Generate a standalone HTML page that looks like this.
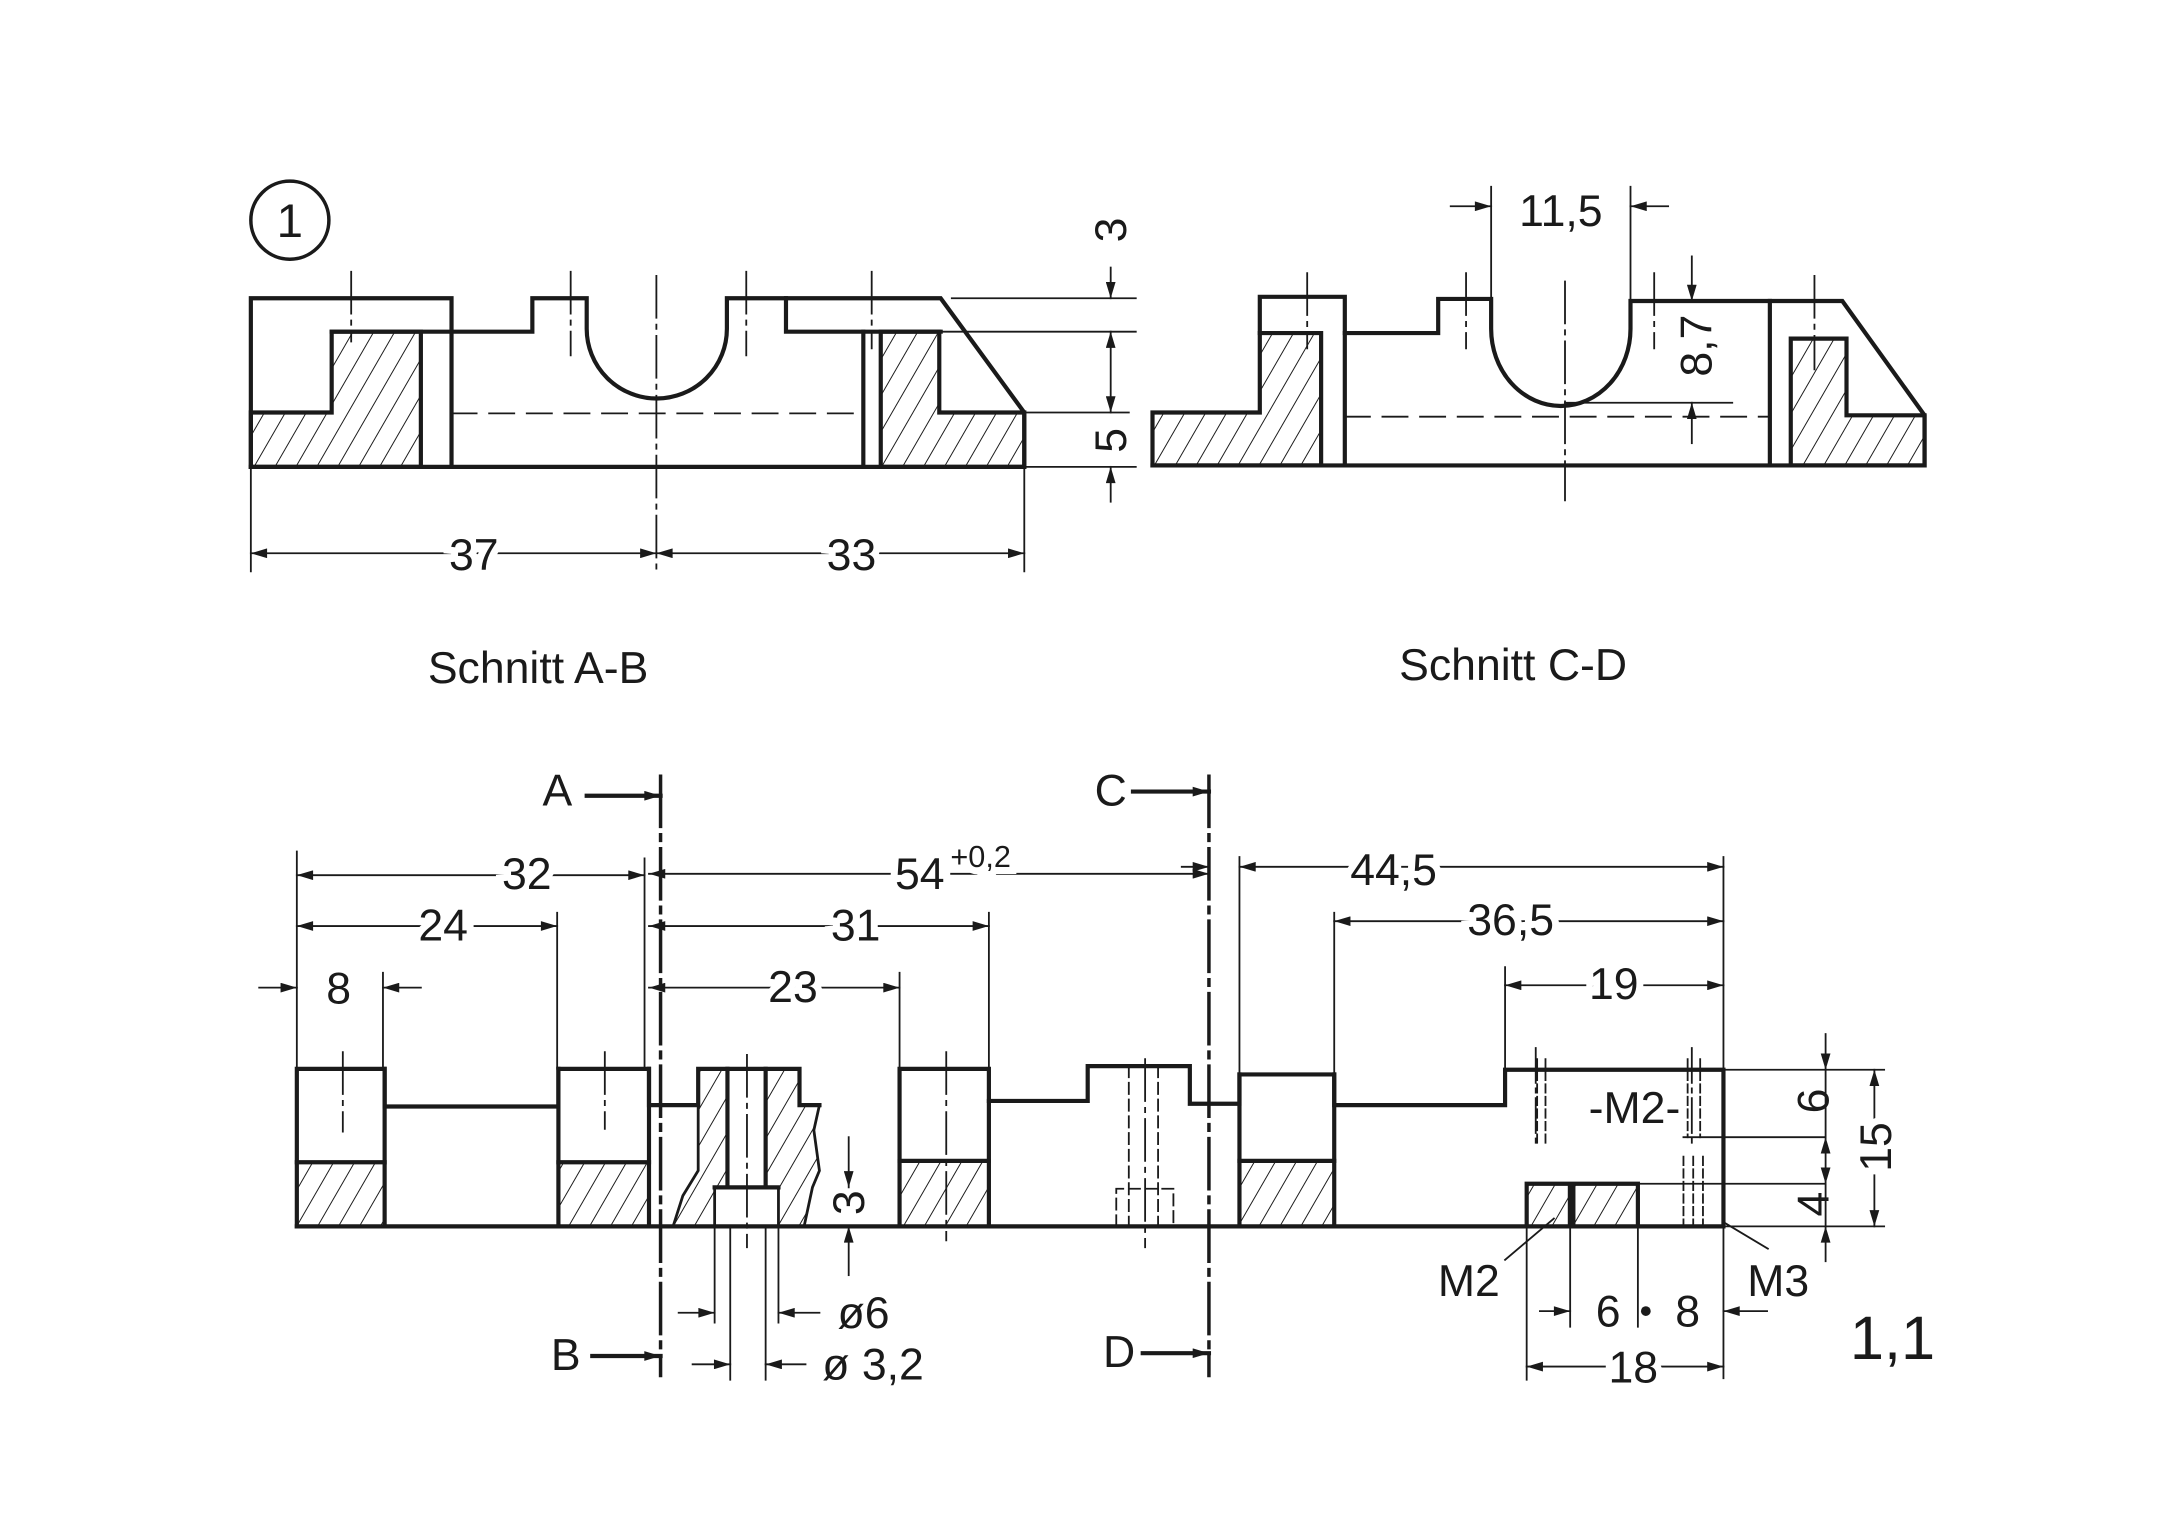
<!DOCTYPE html>
<html><head><meta charset="utf-8"><style>
html,body{margin:0;padding:0;background:#fff}
svg{display:block}
text{font-family:"Liberation Sans",sans-serif;fill:#1a1a1a}
.t{font-size:32px}
.bg{paint-order:stroke;stroke:#fff;stroke-width:10px}
</style></head><body>
<svg width="2174" height="1526" viewBox="0 0 1560 1095" preserveAspectRatio="none" xmlns="http://www.w3.org/2000/svg">
<defs>
<pattern id="h" patternUnits="userSpaceOnUse" width="13" height="13" patternTransform="rotate(30)">
<line x1="0" y1="0" x2="0" y2="13" stroke="#1a1a1a" stroke-width="1.4"/>
</pattern>
<marker id="a" viewBox="0 0 10 6" refX="10" refY="3" markerWidth="16" markerHeight="7" markerUnits="userSpaceOnUse" orient="auto-start-reverse">
<path d="M0,0 L10,3 L0,6 z" fill="#1a1a1a"/>
</marker>
</defs>
<rect width="1560" height="1095" fill="#fff"/>

<g fill="none" stroke="#1a1a1a" stroke-linecap="square">
<!-- ===== Schnitt A-B ===== -->
<circle cx="208" cy="158" r="28" stroke-width="2.5"/>
<polygon points="180,296 238,296 238,238 302,238 302,335 180,335" fill="url(#h)" stroke-width="3"/>
<polygon points="632,238 674,238 674,296 735,296 735,335 632,335" fill="url(#h)" stroke-width="3"/>
<g stroke-width="3">
<path d="M180,335 V214 H324 V335"/>
<path d="M180,335 H735 L735,296 L675,214 H521.6 V236 A50.3 50 0 0 1 421,236 V214 H382 V238 H238"/>
<path d="M564,214 V238 H675"/>
<path d="M619.5,238 V335"/>
</g>
<g stroke-width="1.3">
<path d="M324,296.6 H619.5" stroke-dasharray="18,9"/>
<path d="M683,214 H815 M675,238 H815 M735,296 H810 M735,335 H815"/>
<path d="M471,198 V410 M252,195 V245 M409.5,195 V255 M535.5,195 V255 M625.5,195 V250" stroke-dasharray="30,5,3,5"/>
<path d="M180,335 V410 M735,335 V410"/>
<path d="M797,192 V214" marker-end="url(#a)"/>
<path d="M797,238 V296" marker-start="url(#a)" marker-end="url(#a)"/>
<path d="M797,360 V335" marker-end="url(#a)"/>
<path d="M180,397 H471" marker-start="url(#a)" marker-end="url(#a)"/>
<path d="M471,397 H735" marker-start="url(#a)" marker-end="url(#a)"/>
</g>

<!-- ===== Schnitt C-D ===== -->
<polygon points="827,296 904,296 904,239 948,239 948,334 827,334" fill="url(#h)" stroke-width="3"/>
<polygon points="1285,243 1325,243 1325,298 1381,298 1381,334 1285,334" fill="url(#h)" stroke-width="3"/>
<g stroke-width="3">
<path d="M827,334 H1381 V298 L1322,216 H1170 V236 A47 52 0 0 1 1070,236 V214.5 H1032 V239 H965 V213 H904 V239"/>
<path d="M965,239 V334 M1270,216 V334"/>
</g>
<g stroke-width="1.3">
<path d="M965,299 H1270" stroke-dasharray="18,9"/>
<path d="M1123,289 H1243"/>
<path d="M1123,202 V359 M938,196 V250 M1052,196 V250 M1187,196 V250 M1302,198 V265" stroke-dasharray="30,5,3,5"/>
<path d="M1070,214 V134 M1170,216 V134"/>
<path d="M1041,148 H1070" marker-end="url(#a)"/>
<path d="M1197,148 H1170" marker-end="url(#a)"/>
<path d="M1214,184 V216" marker-end="url(#a)"/>
<path d="M1214,318 V289" marker-end="url(#a)"/>
</g>

<!-- ===== Bottom view ===== -->
<rect x="213" y="834" width="63" height="46" fill="url(#h)" stroke="none"/>
<rect x="400.7" y="834" width="65" height="46" fill="url(#h)" stroke="none"/>
<rect x="645.5" y="833" width="64.1" height="47" fill="url(#h)" stroke="none"/>
<rect x="889.4" y="833" width="68" height="47" fill="url(#h)" stroke="none"/>
<rect x="1095.5" y="849.4" width="79.8" height="30.6" fill="url(#h)" stroke="none"/>
<polygon points="501,767 522,767 522,852 512.8,852 512.8,880 483,880 490,858 501,840" fill="url(#h)" stroke-width="2"/>
<polygon points="549.4,767 573.7,767 573.7,793 588,793 584,811 588,840 583,852 577,880 558.6,880 558.6,852 549.4,852" fill="url(#h)" stroke-width="2"/>
<rect x="1125" y="849.4" width="5.5" height="30.6" fill="#1a1a1a" stroke="none"/>
<g stroke-width="3">
<path d="M213,880 V767 H276 V794 H400.7 V767 H465.7 V793 H501 V767 H573.7 V793 H588"/>
<path d="M645.5,880 V767 H709.6 V790 H780.5 V765 H853.8 V792 H889.4 V771 H957.4 V793 H1080 V767.6 H1236.7 V880 H213"/>
<path d="M276,767 V880 M400.7,767 V880 M465.7,767 V880 M709.6,790 V880 M889.4,771 V880 M957.4,771 V880"/>
<path d="M213,834 H276 M400.7,834 H465.7 M645.5,833 H709.6 M889.4,833 H957.4"/>
<path d="M522,767 V852 M549.4,767 V852 M512.8,852 H558.6"/>
<path d="M1095.5,880 V849.4 H1175.3 V880"/>
</g>
<g stroke-width="1.3">
<path d="M474,557 V987 M867.5,557 V987" stroke-width="2.5" stroke-dasharray="36,6,4,6"/>
<path d="M246,755 V812 M434,755 V810 M536,757 V895 M679,755 V890 M821.7,760 V895" stroke-dasharray="30,5,3,5"/>
<path d="M810,765 V880 M831,765 V880 M801,880 V853 H842 V880" stroke-dasharray="8,4"/>
<path d="M1103,760 V820 M1109,760 V820 M1211,760 V816 M1220,760 V816 M1208,830 V880 M1215,830 V880 M1222,830 V880" stroke-dasharray="6,3"/>
<path d="M1102,752 V822 M1214,752 V820" stroke-dasharray="25,4,3,4"/>
<path d="M1236.7,767.6 H1352 M1236.7,880 H1352 M1208,816 H1309 M1175.3,849.4 H1309"/>
<!-- extension lines -->
<path d="M213,611 V767 M462.5,616 V767 M399.8,655 V767 M274.8,698 V767 M709.6,655 V767 M645.5,698 V767"/>
<path d="M889.4,615 V771 M1236.7,615 V989 M957.4,655 V771 M1080,694 V767"/>
<path d="M512.8,852 V949 M558.6,852 V949 M524,880 V990 M549.4,880 V990"/>
<path d="M1095.5,880 V990 M1126.7,880 V952 M1175.3,880 V952"/>
<!-- dims -->
<path d="M213,628 H462.5" marker-start="url(#a)" marker-end="url(#a)"/>
<path d="M465.7,627 H867.5" marker-start="url(#a)" marker-end="url(#a)"/>
<path d="M889.4,622 H1236.7" marker-start="url(#a)" marker-end="url(#a)"/>
<path d="M848,622 H867.5" marker-end="url(#a)"/>
<path d="M213,664.5 H399.8" marker-start="url(#a)" marker-end="url(#a)"/>
<path d="M465.7,664.5 H709.6" marker-start="url(#a)" marker-end="url(#a)"/>
<path d="M957.4,661 H1236.7" marker-start="url(#a)" marker-end="url(#a)"/>
<path d="M186,708.7 H213" marker-end="url(#a)"/>
<path d="M302,708.7 H274.8" marker-end="url(#a)"/>
<path d="M465.7,708.7 H645.5" marker-start="url(#a)" marker-end="url(#a)"/>
<path d="M1080,707 H1236.7" marker-start="url(#a)" marker-end="url(#a)"/>
<path d="M609,816 V852" marker-end="url(#a)"/>
<path d="M609,915 V880" marker-end="url(#a)"/>
<path d="M487,942 H512.8" marker-end="url(#a)"/>
<path d="M588,942 H558.6" marker-end="url(#a)"/>
<path d="M497,979 H524" marker-end="url(#a)"/>
<path d="M578,979 H549.4" marker-end="url(#a)"/>
<path d="M421,571 H474" stroke-width="3" marker-end="url(#a)"/>
<path d="M813,568 H867.5" stroke-width="3" marker-end="url(#a)"/>
<path d="M425,973 H474" stroke-width="3" marker-end="url(#a)"/>
<path d="M820,971 H867.5" stroke-width="3" marker-end="url(#a)"/>
<path d="M1310,742 V767.6" marker-end="url(#a)"/>
<path d="M1310,767.6 V816 M1310,849.4 V880"/>
<path d="M1310,816 V849.4" marker-start="url(#a)" marker-end="url(#a)"/>
<path d="M1310,905 V880" marker-end="url(#a)"/>
<path d="M1345,767.6 V880" marker-start="url(#a)" marker-end="url(#a)"/>
<path d="M1105,940.8 H1126.7" marker-end="url(#a)"/>
<path d="M1268,940.8 H1236.7" marker-end="url(#a)"/>
<path d="M1095.5,980.6 H1236.7" marker-start="url(#a)" marker-end="url(#a)"/>
<path d="M1080,904 L1115,874.4 M1268.6,896 L1237.5,877.4"/>
</g>
</g>
<circle cx="1181" cy="940.8" r="3.5" fill="#1a1a1a"/>

<!-- ===== Text ===== -->
<g class="t">
<text x="208" y="170" font-size="34" text-anchor="middle">1</text>
<text x="808" y="165" text-anchor="middle" transform="rotate(-90 808 165)" dy="0">3</text>
<text x="808" y="316" text-anchor="middle" transform="rotate(-90 808 316)">5</text>
<text x="340" y="409" text-anchor="middle" class="bg">37</text>
<text x="611" y="409" text-anchor="middle" class="bg">33</text>
<text x="307" y="490">Schnitt A-B</text>
<text x="1004" y="488">Schnitt C-D</text>
<text x="1120" y="162" text-anchor="middle">11,5</text>
<text x="1228" y="248" text-anchor="middle" transform="rotate(-90 1228 248)">8,7</text>

<text x="400" y="578" text-anchor="middle">A</text>
<text x="797" y="578" text-anchor="middle">C</text>
<text x="406" y="983" text-anchor="middle">B</text>
<text x="803" y="981" text-anchor="middle">D</text>
<text x="378" y="638" text-anchor="middle" class="bg">32</text>
<text x="660" y="638" text-anchor="middle" class="bg">54</text>
<text x="682" y="622" font-size="22" class="bg">+0,2</text>
<text x="1000" y="635" text-anchor="middle" class="bg">44,5</text>
<text x="318" y="675" text-anchor="middle" class="bg">24</text>
<text x="614" y="675" text-anchor="middle" class="bg">31</text>
<text x="1084" y="671" text-anchor="middle" class="bg">36,5</text>
<text x="243" y="720" text-anchor="middle">8</text>
<text x="569" y="719" text-anchor="middle" class="bg">23</text>
<text x="1158" y="717" text-anchor="middle" class="bg">19</text>
<text x="620" y="863" text-anchor="middle" transform="rotate(-90 620 863)">3</text>
<text x="601" y="953">ø6</text>
<text x="590" y="990">ø 3,2</text>
<text x="1140" y="806">-M2-</text>
<text x="1312" y="790" text-anchor="middle" transform="rotate(-90 1312 790)">6</text>
<text x="1357" y="823" text-anchor="middle" transform="rotate(-90 1357 823)" class="bg">15</text>
<text x="1312" y="864" text-anchor="middle" transform="rotate(-90 1312 864)">4</text>
<text x="1054" y="930" text-anchor="middle">M2</text>
<text x="1276" y="930" text-anchor="middle">M3</text>
<text x="1154" y="952" text-anchor="middle">6</text>
<text x="1211" y="952" text-anchor="middle">8</text>
<text x="1172" y="992" text-anchor="middle" class="bg">18</text>
<text x="1358" y="975" text-anchor="middle" font-size="44">1,1</text>
</g>
</svg>
</body></html>
